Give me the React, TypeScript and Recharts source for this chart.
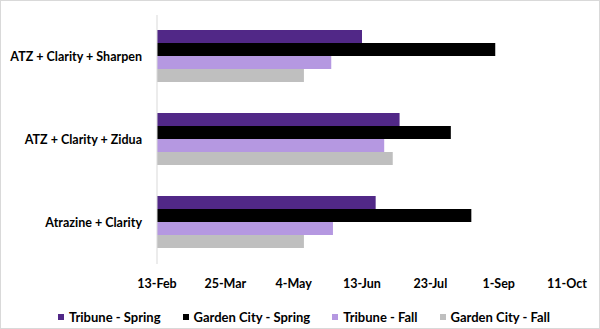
import React from 'react'
import { BarChart, Bar, XAxis, YAxis, Legend } from 'recharts'

// dates are day-of-year numbers (non-leap year)
const treatments = ['ATZ + Clarity + Sharpen', 'ATZ + Clarity + Zidua', 'Atrazine + Clarity']
const tribuneSpring = [164, 186, 172]
const gardenCitySpring = [242, 216, 228]
const tribuneFall = [146, 177, 147]
const gardenCityFall = [130, 182, 130]

const tickDays = [44, 84, 124, 164, 204, 244, 284]
const tickLabels = ['13-Feb', '25-Mar', '4-May', '13-Jun', '23-Jul', '1-Sep', '11-Oct']

const series = [
  { key: 'tribuneSpring', name: 'Tribune - Spring', color: '#512887' },
  { key: 'gardenCitySpring', name: 'Garden City - Spring', color: '#000000' },
  { key: 'tribuneFall', name: 'Tribune - Fall', color: '#b598e1' },
  { key: 'gardenCityFall', name: 'Garden City - Fall', color: '#bfbfbf' },
]

const data = treatments.map((t, i) => ({
  treatment: t,
  tribuneSpring: tribuneSpring[i],
  gardenCitySpring: gardenCitySpring[i],
  tribuneFall: tribuneFall[i],
  gardenCityFall: gardenCityFall[i],
}))

const font = 'Lato, "Open Sans", sans-serif'

// plain text tick so long labels stay on one line
const CategoryTick = (props: any) => {
  const { x, y, payload } = props
  return (
    <text
      x={x}
      y={y}
      dy="0.35em"
      textAnchor="end"
      fontFamily={font}
      fontWeight={700}
      fontSize={12.5}
      fill="#000"
    >
      {payload.value}
    </text>
  )
}

const LegendContent = () => (
  <div
    style={{
      display: 'flex',
      justifyContent: 'center',
      alignItems: 'center',
      height: 22,
      paddingLeft: 30,
      fontFamily: font,
      fontWeight: 700,
      fontSize: 13,
      color: '#000',
    }}
  >
    {series.map((s) => (
      <div key={s.key} style={{ display: 'flex', alignItems: 'center', marginRight: 22 }}>
        <span style={{ width: 6, height: 6, background: s.color, marginRight: 5, display: 'inline-block' }} />
        <span>{s.name}</span>
      </div>
    ))}
  </div>
)

export default function App() {
  return (
    <div
      style={{
        position: 'absolute',
        left: 0,
        top: 0,
        width: 600,
        height: 329,
        border: '1px solid #d9d9d9',
        boxSizing: 'border-box',
        background: '#fff',
      }}
    >
      <div style={{ position: 'absolute', left: -1, top: -1 }}>
        <BarChart
          width={600}
          height={329}
          data={data}
          layout="vertical"
          margin={{ top: 15, right: 33, bottom: 1, left: 0 }}
          barCategoryGap={15}
          barGap={0}
        >
          <XAxis
            type="number"
            domain={[44, 284]}
            ticks={tickDays}
            allowDataOverflow
            axisLine={false}
            tickLine={false}
            tickMargin={9}
            height={42}
            tickFormatter={(v: number) => tickLabels[tickDays.indexOf(v)]}
            tick={{ fontSize: 12.5, fontWeight: 700, fill: '#000', fontFamily: font }}
          />
          <YAxis
            type="category"
            dataKey="treatment"
            width={157}
            axisLine={{ stroke: '#d9d9d9' }}
            tickLine={false}
            tickMargin={9}
            tick={<CategoryTick />}
          />
          <Legend
            verticalAlign="bottom"
            content={<LegendContent />}
            wrapperStyle={{ left: 0, width: 600 }}
          />
          {series.map((s) => (
            <Bar key={s.key} dataKey={s.key} name={s.name} fill={s.color} isAnimationActive={false} />
          ))}
        </BarChart>
      </div>
    </div>
  )
}
